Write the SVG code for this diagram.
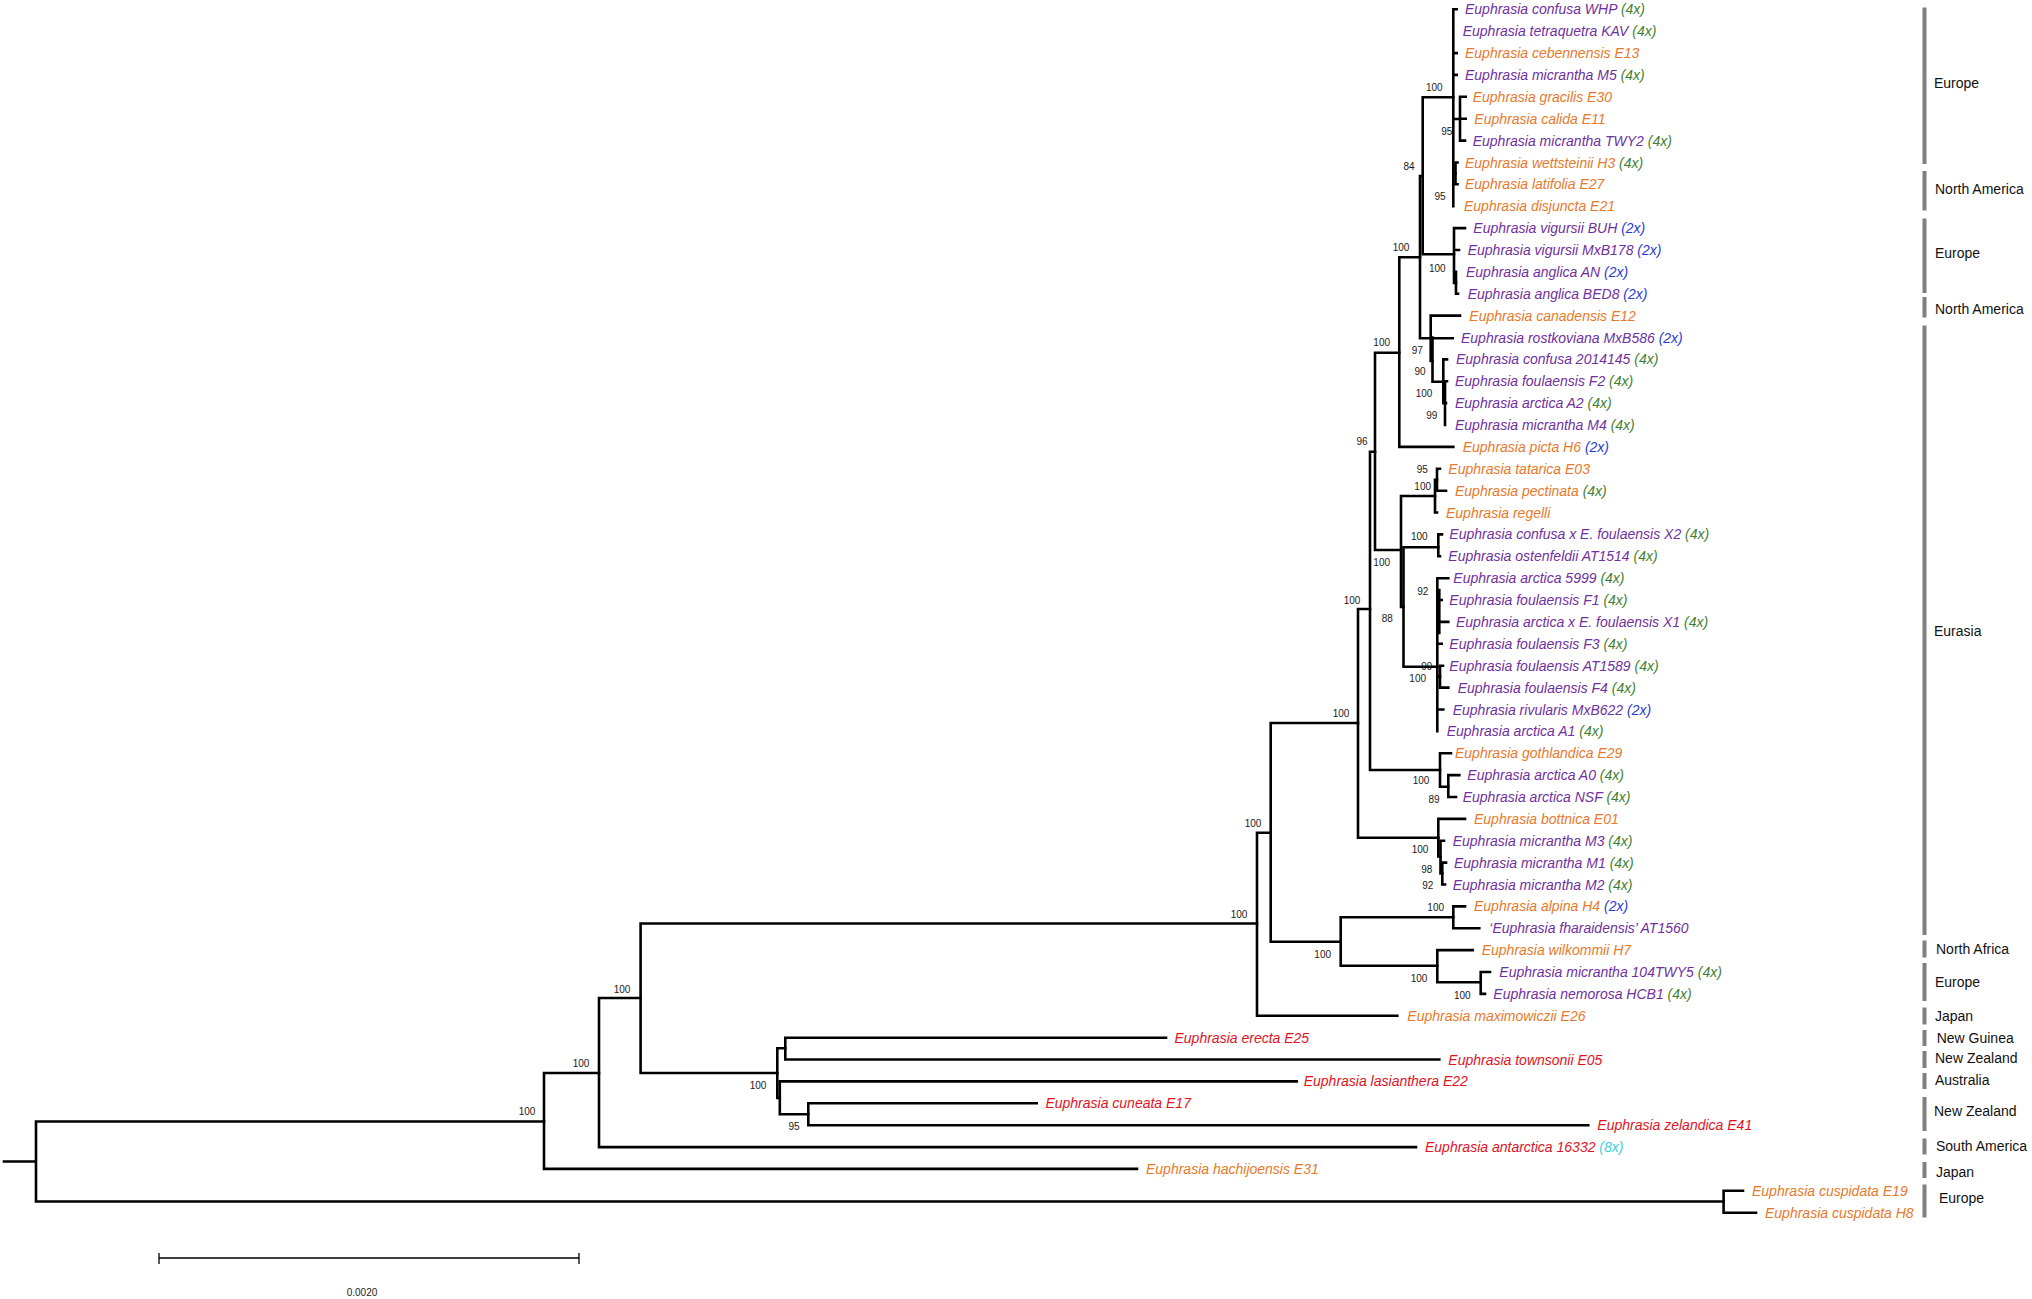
<svg xmlns="http://www.w3.org/2000/svg" width="2032" height="1299" viewBox="0 0 2032 1299">
<style>
.br{stroke:#000;stroke-width:2.6;fill:none;stroke-linecap:square}
.sb{stroke:#000;stroke-width:1.3;fill:none}
.tx{font-family:"Liberation Sans",Arial,sans-serif;font-style:italic;font-size:14px}
.p{fill:#7030A0}.o{fill:#E8792A}.r{fill:#E3121E}.g{fill:#3F7F2F}.bl{fill:#2B3BD6}.c{fill:#3FD0E0}
.sp{font-family:"Liberation Sans",Arial,sans-serif;font-size:10px;fill:#1a1a1a;text-anchor:middle}
.rg{font-family:"Liberation Sans",Arial,sans-serif;font-size:14px;fill:#111}
.bar{fill:#808080}
</style>
<rect width="2032" height="1299" fill="#fff"/>
<g id="connectors">
<path class="br" d="M4 1161.5H36M36 1121.5V1201.5M36 1121.5H544M36 1201.5H1723.6"/>
<path class="br" d="M1723.6 1190.8V1212.7M1723.6 1190.8H1743M1723.6 1212.7H1756"/>
<path class="br" d="M544 1073V1168.9M544 1073H599M544 1168.9H1137"/>
<path class="br" d="M599 998V1147.1M599 998H640.6M599 1147.1H1416"/>
<path class="br" d="M640.6 923.5V1073M640.6 923.5H1257M640.6 1073H777.3"/>
<path class="br" d="M777.3 1048.3V1098M777.3 1048.3H785.3M777.3 1098H779.8"/>
<path class="br" d="M779.8 1081.4V1114.3M779.8 1081.4H1296.8M779.8 1114.3H808.3"/>
<path class="br" d="M785.3 1037.7V1059.5M785.3 1037.7H1166M785.3 1059.5H1439.3"/>
<path class="br" d="M808.3 1103.3V1125.2M808.3 1103.3H1036.7M808.3 1125.2H1588.3"/>
<path class="br" d="M1257 832.7V1015.8M1257 832.7H1270.7M1257 1015.8H1397.3"/>
<path class="br" d="M1270.7 723V941.7M1270.7 723H1358M1270.7 941.7H1340.7"/>
<path class="br" d="M1340.7 917.3V965.7M1340.7 917.3H1453.3M1340.7 965.7H1437.3"/>
<path class="br" d="M1453.3 906.4V928.3M1453.3 906.4H1465M1453.3 928.3H1479.3"/>
<path class="br" d="M1437.3 950.1V982.3M1437.3 950.1H1472.7M1437.3 982.3H1480.7"/>
<path class="br" d="M1480.7 972V993.9M1480.7 972H1490M1480.7 993.9H1485"/>
<path class="br" d="M1358 609V837.7M1358 609H1370M1358 837.7H1438.3"/>
<path class="br" d="M1438.3 818.9V856.5M1438.3 818.9H1465M1438.3 856.5H1440.5"/>
<path class="br" d="M1440.5 840.7V873.5M1440.5 840.7H1444M1440.5 873.5H1442.3"/>
<path class="br" d="M1442.3 862.6V884.5M1442.3 862.6H1446M1442.3 884.5H1445"/>
<path class="br" d="M1370 451.7V770M1370 451.7H1375M1370 770H1440"/>
<path class="br" d="M1440 753.2V786.7M1440 753.2H1451M1440 786.7H1448.3"/>
<path class="br" d="M1448.3 775.1V797M1448.3 775.1H1459.3M1448.3 797H1456"/>
<path class="br" d="M1375 352.7V550M1375 352.7H1399.3M1375 550H1401"/>
<path class="br" d="M1401 496V607M1401 496H1435M1401 607H1403.5"/>
<path class="br" d="M1403.5 547.3V666.7M1403.5 547.3H1438.3M1403.5 666.7H1437.3"/>
<path class="br" d="M1435 479.7V512.5M1435 479.7H1437M1435 512.5H1437"/>
<path class="br" d="M1437 468.8V490.7M1437 468.8H1440M1437 490.7H1446"/>
<path class="br" d="M1438.3 534.4V556.3M1438.3 534.4H1442M1438.3 556.3H1440"/>
<path class="br" d="M1437.3 578.2V731.3M1437.3 578.2H1448.3M1437.3 600H1441.7M1437.3 621.9H1448.3M1437.3 643.8H1441.7M1437.3 709.5H1443.3M1437.3 676.6H1440M1439.3 590V633"/>
<path class="br" d="M1440 665.7V687.6M1440 665.7H1443M1440 687.6H1448.3"/>
<path class="br" d="M1399.3 257.3V446.9M1399.3 257.3H1420M1399.3 446.9H1453.3"/>
<path class="br" d="M1420 176V338.3M1420 176H1422.7M1420 338.3H1452.7"/>
<path class="br" d="M1422.7 97.3V254.3M1422.7 97.3H1453.3M1422.7 254.3H1454"/>
<path class="br" d="M1453.3 9.3V206.2M1453.3 9.3H1456.7M1453.3 53.1H1456.7M1453.3 74.9H1456.7M1453.3 119H1460M1453.3 173.4H1455.5"/>
<path class="br" d="M1460 96.8V140.6M1460 96.8H1465.7M1460 118.7H1465.7M1460 140.6H1465"/>
<path class="br" d="M1455.5 162.5V184.3M1455.5 162.5H1457.5M1455.5 184.3H1457.5"/>
<path class="br" d="M1454 228.1V282.9M1454 228.1H1465M1454 250H1459M1454 282.9H1456"/>
<path class="br" d="M1456 271.9V293.7M1456 293.7H1458"/>
<path class="br" d="M1430.7 315.6V360.9M1430.7 315.6H1460M1430.7 360.9H1432.5"/>
<path class="br" d="M1432.5 337.5V381.7M1432.5 381.7H1443.3"/>
<path class="br" d="M1443.3 359.4V403.1M1443.3 359.4H1447M1443.3 403.1H1445"/>
<path class="br" d="M1445 381.3V425M1445 381.3H1447M1445 403.1H1446"/>
</g>
<g id="scale">
<path class="sb" d="M159 1258H579M159 1253V1264M579 1253V1264"/>
<text class="sp" x="362" y="1295.5">0.0020</text>
</g>
<g id="support">
<text class="sp" x="527" y="1114.5">100</text>
<text class="sp" x="581" y="1066.5">100</text>
<text class="sp" x="622" y="992.5">100</text>
<text class="sp" x="758" y="1088.5">100</text>
<text class="sp" x="794" y="1130">95</text>
<text class="sp" x="1239" y="917.5">100</text>
<text class="sp" x="1253" y="826.5">100</text>
<text class="sp" x="1341" y="716.5">100</text>
<text class="sp" x="1322.7" y="957.5">100</text>
<text class="sp" x="1352" y="603.5">100</text>
<text class="sp" x="1419" y="981.8">100</text>
<text class="sp" x="1462.3" y="998.5">100</text>
<text class="sp" x="1435.7" y="910.8">100</text>
<text class="sp" x="1420" y="852.8">100</text>
<text class="sp" x="1426.7" y="872.5">98</text>
<text class="sp" x="1427.7" y="889.2">92</text>
<text class="sp" x="1421" y="784.2">100</text>
<text class="sp" x="1434" y="802.5">89</text>
<text class="sp" x="1387.3" y="621.8">88</text>
<text class="sp" x="1381.7" y="566.2">100</text>
<text class="sp" x="1422.7" y="594.5">92</text>
<text class="sp" x="1426.7" y="670.2">99</text>
<text class="sp" x="1417.7" y="681.8">100</text>
<text class="sp" x="1419.3" y="539.5">100</text>
<text class="sp" x="1422.3" y="472.8">95</text>
<text class="sp" x="1422.7" y="489.5">100</text>
<text class="sp" x="1362" y="445.2">96</text>
<text class="sp" x="1381.7" y="346.2">100</text>
<text class="sp" x="1401" y="250.5">100</text>
<text class="sp" x="1409" y="169.5">84</text>
<text class="sp" x="1434.3" y="91.2">100</text>
<text class="sp" x="1446.7" y="134.5">95</text>
<text class="sp" x="1440" y="200.2">95</text>
<text class="sp" x="1437.3" y="271.8">100</text>
<text class="sp" x="1417.3" y="353.5">97</text>
<text class="sp" x="1420" y="375.2">90</text>
<text class="sp" x="1424" y="396.8">100</text>
<text class="sp" x="1431.7" y="419.2">99</text>
</g>
<g id="taxa">
<g id="t01"><text class="tx p" x="1465" y="14.3">Euphrasia confusa WHP <tspan class="g">(4x)</tspan></text></g>
<g id="t02"><text class="tx p" x="1462.7" y="36.2">Euphrasia tetraquetra KAV <tspan class="g">(4x)</tspan></text></g>
<g id="t03"><text class="tx o" x="1465" y="58.1">Euphrasia cebennensis E13</text></g>
<g id="t04"><text class="tx p" x="1465" y="79.9">Euphrasia micrantha M5 <tspan class="g">(4x)</tspan></text></g>
<g id="t05"><text class="tx o" x="1472.7" y="101.8">Euphrasia gracilis E30</text></g>
<g id="t06"><text class="tx o" x="1474.3" y="123.7">Euphrasia calida E11</text></g>
<g id="t07"><text class="tx p" x="1472.7" y="145.6">Euphrasia micrantha TWY2 <tspan class="g">(4x)</tspan></text></g>
<g id="t08"><text class="tx o" x="1465" y="167.5">Euphrasia wettsteinii H3 <tspan class="g">(4x)</tspan></text></g>
<g id="t09"><text class="tx o" x="1465" y="189.3">Euphrasia latifolia E27</text></g>
<g id="t10"><text class="tx o" x="1464" y="211.2">Euphrasia disjuncta E21</text></g>
<g id="t11"><text class="tx p" x="1473.3" y="233.1">Euphrasia vigursii BUH <tspan class="bl">(2x)</tspan></text></g>
<g id="t12"><text class="tx p" x="1467.7" y="255">Euphrasia vigursii MxB178 <tspan class="bl">(2x)</tspan></text></g>
<g id="t13"><text class="tx p" x="1466" y="276.9">Euphrasia anglica AN <tspan class="bl">(2x)</tspan></text></g>
<g id="t14"><text class="tx p" x="1467.7" y="298.7">Euphrasia anglica BED8 <tspan class="bl">(2x)</tspan></text></g>
<g id="t15"><text class="tx o" x="1469.3" y="320.6">Euphrasia canadensis E12</text></g>
<g id="t16"><text class="tx p" x="1461" y="342.5">Euphrasia rostkoviana MxB586 <tspan class="bl">(2x)</tspan></text></g>
<g id="t17"><text class="tx p" x="1456" y="364.4">Euphrasia confusa 2014145 <tspan class="g">(4x)</tspan></text></g>
<g id="t18"><text class="tx p" x="1455" y="386.3">Euphrasia foulaensis F2 <tspan class="g">(4x)</tspan></text></g>
<g id="t19"><text class="tx p" x="1455" y="408.1">Euphrasia arctica A2 <tspan class="g">(4x)</tspan></text></g>
<g id="t20"><text class="tx p" x="1455" y="430">Euphrasia micrantha M4 <tspan class="g">(4x)</tspan></text></g>
<g id="t21"><text class="tx o" x="1462.7" y="451.9">Euphrasia picta H6 <tspan class="bl">(2x)</tspan></text></g>
<g id="t22"><text class="tx o" x="1448.3" y="473.8">Euphrasia tatarica E03</text></g>
<g id="t23"><text class="tx o" x="1455" y="495.7">Euphrasia pectinata <tspan class="g">(4x)</tspan></text></g>
<g id="t24"><text class="tx o" x="1446" y="517.5">Euphrasia regelli</text></g>
<g id="t25"><text class="tx p" x="1449.3" y="539.4">Euphrasia confusa x E. foulaensis X2 <tspan class="g">(4x)</tspan></text></g>
<g id="t26"><text class="tx p" x="1448.3" y="561.3">Euphrasia ostenfeldii AT1514 <tspan class="g">(4x)</tspan></text></g>
<g id="t27"><text class="tx p" x="1453.3" y="583.2">Euphrasia arctica 5999 <tspan class="g">(4x)</tspan></text></g>
<g id="t28"><text class="tx p" x="1449.3" y="605.1">Euphrasia foulaensis F1 <tspan class="g">(4x)</tspan></text></g>
<g id="t29"><text class="tx p" x="1456" y="626.9">Euphrasia arctica x E. foulaensis X1 <tspan class="g">(4x)</tspan></text></g>
<g id="t30"><text class="tx p" x="1449.3" y="648.8">Euphrasia foulaensis F3 <tspan class="g">(4x)</tspan></text></g>
<g id="t31"><text class="tx p" x="1449.3" y="670.7">Euphrasia foulaensis AT1589 <tspan class="g">(4x)</tspan></text></g>
<g id="t32"><text class="tx p" x="1457.7" y="692.6">Euphrasia foulaensis F4 <tspan class="g">(4x)</tspan></text></g>
<g id="t33"><text class="tx p" x="1452.7" y="714.5">Euphrasia rivularis MxB622 <tspan class="bl">(2x)</tspan></text></g>
<g id="t34"><text class="tx p" x="1446.7" y="736.3">Euphrasia arctica A1 <tspan class="g">(4x)</tspan></text></g>
<g id="t35"><text class="tx o" x="1455" y="758.2">Euphrasia gothlandica E29</text></g>
<g id="t36"><text class="tx p" x="1467.3" y="780.1">Euphrasia arctica A0 <tspan class="g">(4x)</tspan></text></g>
<g id="t37"><text class="tx p" x="1462.7" y="802">Euphrasia arctica NSF <tspan class="g">(4x)</tspan></text></g>
<g id="t38"><text class="tx o" x="1474" y="823.9">Euphrasia bottnica E01</text></g>
<g id="t39"><text class="tx p" x="1452.7" y="845.7">Euphrasia micrantha M3 <tspan class="g">(4x)</tspan></text></g>
<g id="t40"><text class="tx p" x="1454" y="867.6">Euphrasia micrantha M1 <tspan class="g">(4x)</tspan></text></g>
<g id="t41"><text class="tx p" x="1452.7" y="889.5">Euphrasia micrantha M2 <tspan class="g">(4x)</tspan></text></g>
<g id="t42"><text class="tx o" x="1474" y="911.4">Euphrasia alpina H4 <tspan class="bl">(2x)</tspan></text></g>
<g id="t43"><text class="tx p" x="1489.3" y="933.3">‘Euphrasia fharaidensis’ AT1560</text></g>
<g id="t44"><text class="tx o" x="1481.7" y="955.1">Euphrasia wilkommii H7</text></g>
<g id="t45"><text class="tx p" x="1499.3" y="977">Euphrasia micrantha 104TWY5 <tspan class="g">(4x)</tspan></text></g>
<g id="t46"><text class="tx p" x="1493.3" y="998.9">Euphrasia nemorosa HCB1 <tspan class="g">(4x)</tspan></text></g>
<g id="t47"><text class="tx o" x="1407.3" y="1020.8">Euphrasia maximowiczii E26</text></g>
<g id="t48"><text class="tx r" x="1174.5" y="1042.7">Euphrasia erecta E25</text></g>
<g id="t49"><text class="tx r" x="1448.3" y="1064.5">Euphrasia townsonii E05</text></g>
<g id="t50"><text class="tx r" x="1303.7" y="1086.4">Euphrasia lasianthera E22</text></g>
<g id="t51"><text class="tx r" x="1045.4" y="1108.3">Euphrasia cuneata E17</text></g>
<g id="t52"><text class="tx r" x="1597.3" y="1130.2">Euphrasia zelandica E41</text></g>
<g id="t53"><text class="tx r" x="1425" y="1152.1">Euphrasia antarctica 16332 <tspan class="c">(8x)</tspan></text></g>
<g id="t54"><text class="tx o" x="1146" y="1173.9">Euphrasia hachijoensis E31</text></g>
<g id="t55"><text class="tx o" x="1752" y="1195.8">Euphrasia cuspidata E19</text></g>
<g id="t56"><text class="tx o" x="1765" y="1217.7">Euphrasia cuspidata H8</text></g>
</g>
<g id="regions">
<g id="r01"><rect class="bar" x="1922.5" y="7.5" width="4" height="156.5"/><text class="rg" x="1934" y="88">Europe</text></g>
<g id="r02"><rect class="bar" x="1922.5" y="171" width="4" height="39.5"/><text class="rg" x="1935" y="194">North America</text></g>
<g id="r03"><rect class="bar" x="1922.5" y="218.5" width="4" height="74.5"/><text class="rg" x="1935" y="258">Europe</text></g>
<g id="r04"><rect class="bar" x="1922.5" y="297" width="4" height="20.5"/><text class="rg" x="1935" y="314">North America</text></g>
<g id="r05"><rect class="bar" x="1922.5" y="325.5" width="4" height="609.5"/><text class="rg" x="1934" y="636">Eurasia</text></g>
<g id="r06"><rect class="bar" x="1922.5" y="940.5" width="4" height="17"/><text class="rg" x="1936" y="953.6">North Africa</text></g>
<g id="r07"><rect class="bar" x="1922.5" y="963" width="4" height="38"/><text class="rg" x="1935" y="987">Europe</text></g>
<g id="r08"><rect class="bar" x="1922.5" y="1007.5" width="4" height="17"/><text class="rg" x="1935" y="1021">Japan</text></g>
<g id="r09"><rect class="bar" x="1922.5" y="1030" width="4" height="16"/><text class="rg" x="1936.7" y="1043">New Guinea</text></g>
<g id="r10"><rect class="bar" x="1922.5" y="1051" width="4" height="17"/><text class="rg" x="1935" y="1063">New Zealand</text></g>
<g id="r11"><rect class="bar" x="1922.5" y="1073" width="4" height="16"/><text class="rg" x="1935" y="1085">Australia</text></g>
<g id="r12"><rect class="bar" x="1922.5" y="1097" width="4" height="34"/><text class="rg" x="1934" y="1116">New Zealand</text></g>
<g id="r13"><rect class="bar" x="1922.5" y="1138.5" width="4" height="16"/><text class="rg" x="1936" y="1150.5">South America</text></g>
<g id="r14"><rect class="bar" x="1922.5" y="1162" width="4" height="16"/><text class="rg" x="1936" y="1177">Japan</text></g>
<g id="r15"><rect class="bar" x="1922.5" y="1184.5" width="4" height="33"/><text class="rg" x="1939" y="1203">Europe</text></g>
</g>
</svg>
